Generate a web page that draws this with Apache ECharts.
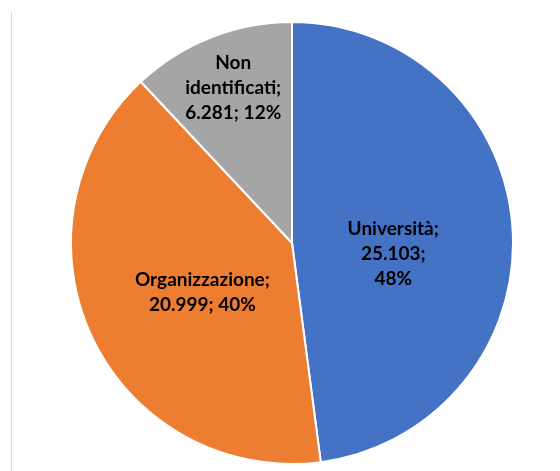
<!DOCTYPE html>
<html>
<head>
<meta charset="utf-8">
<script src="https://cdn.jsdelivr.net/npm/echarts@6/dist/echarts.min.js"></script>
<style>
  html, body { margin: 0; padding: 0; background: #fff; }
  #chart { width: 560px; height: 471px; }
</style>
</head>
<body>
<div id="chart"></div>
<script>
// Categories and values of the pie
const categories = ['Università', 'Organizzazione', 'Non identificati'];
const labelNames = ['Università;', 'Organizzazione;', 'Non\nidentificati;'];
const values = [25103, 20999, 6281];
const colors = ['#4472C4', '#ED7D31', '#A5A5A5'];

// Label offsets relative to the default inside position
const labelOffsets = [[-12, 18], [13, 1], [-17, -50]];

const total = values.reduce((a, b) => a + b, 0);
const fmtNum = v => v.toLocaleString('it-IT');

const chart = echarts.init(document.getElementById('chart'));
chart.setOption({
  animation: false,
  graphic: [{
    type: 'line',
    shape: { x1: 11.5, y1: 12, x2: 11.5, y2: 471 },
    style: { stroke: '#d9d9d9', lineWidth: 1 }
  }],
  series: [{
    type: 'pie',
    center: [292, 243],
    radius: [0, 221],
    startAngle: 90,
    clockwise: true,
    itemStyle: { borderColor: '#fff', borderWidth: 2 },
    label: {
      position: 'inside',
      color: '#000',
      fontFamily: 'Lato',
      fontWeight: 'bold',
      fontSize: 19,
      lineHeight: 25,
      align: 'center'
    },
    labelLine: { show: false },
    data: categories.map((c, i) => {
      const pct = Math.round(values[i] / total * 100) + '%';
      let text;
      if (i === 0) text = labelNames[i] + '\n' + fmtNum(values[i]) + ';\n' + pct;
      else text = labelNames[i] + '\n' + fmtNum(values[i]) + '; ' + pct;
      return {
        name: c,
        value: values[i],
        itemStyle: { color: colors[i] },
        label: { formatter: text, offset: labelOffsets[i] }
      };
    })
  }]
});
</script>
</body>
</html>
